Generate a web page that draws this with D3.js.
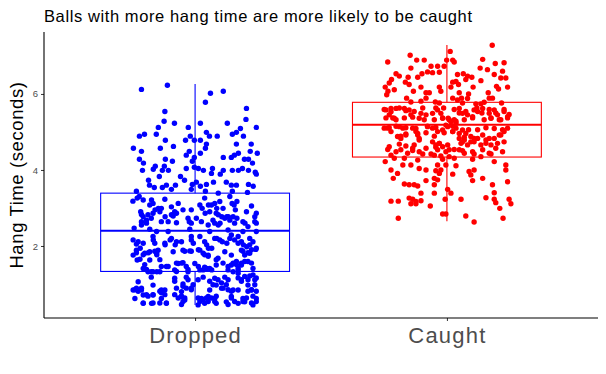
<!DOCTYPE html>
<html><head><meta charset="utf-8">
<script src="https://cdn.jsdelivr.net/npm/d3@7"></script>
<style>body{margin:0;background:#fff}svg{display:block}text{font-family:"Liberation Sans",Arial,sans-serif}</style>
</head><body>
<svg id="c" width="606" height="374"></svg>
<script>
const categories = ["Dropped", "Caught"];
const colors = ["#0000FF", "#FF0000"];
const yTicks = [2, 4, 6];
// box stats: [lowerWhisker, q1, median, q3, upperWhisker]
const droppedBox = [0.45, 1.33, 2.40, 3.39, 6.26];
const caughtBox = [2.65, 4.34, 5.19, 5.78, 7.29];
// jittered points: horizontal jitter (category units) and hang time (seconds)
const droppedJitter = [-0.213,-0.110,0.061,0.112,0.041,-0.120,0.204,-0.123,-0.082,0.202,0.021,0.128,0.243,-0.146,-0.027,-0.201,-0.221,-0.154,-0.019,0.045,0.057,0.088,0.148,0.164,0.180,0.192,-0.118,-0.038,-0.003,0.021,-0.245,-0.213,-0.138,-0.086,0.045,0.041,0.164,0.223,-0.023,-0.035,0.021,0.219,0.247,0.172,0.156,0.144,0.112,-0.003,-0.221,-0.118,-0.011,0.196,0.212,-0.205,-0.090,0.228,-0.158,-0.166,-0.209,-0.122,-0.130,-0.106,-0.035,-0.003,0.013,0.033,0.069,0.112,0.148,0.172,0.188,0.212,0.239,0.100,0.065,-0.142,-0.058,-0.042,-0.185,-0.181,-0.162,-0.130,-0.114,-0.078,-0.094,-0.011,0.005,0.021,0.045,0.073,0.124,0.144,0.164,0.212,0.231,0.243,-0.233,-0.015,0.041,0.092,0.148,0.208,
-0.247,-0.230,-0.206,-0.173,-0.180,-0.134,-0.140,-0.120,-0.094,-0.067,-0.081,-0.087,-0.048,-0.015,0.019,0.038,0.065,0.078,0.098,0.058,0.084,0.111,0.155,0.160,0.224,0.204,0.138,-0.216,-0.206,-0.187,-0.167,-0.213,-0.193,-0.134,-0.107,-0.074,-0.028,-0.015,0.005,0.025,0.052,0.071,0.118,0.151,0.157,0.190,0.237,0.237,0.210,-0.242,-0.180,-0.153,-0.107,-0.021,0.058,0.131,0.190,0.243,-0.246,-0.226,-0.206,-0.167,-0.160,-0.120,-0.094,-0.074,-0.054,-0.015,0.019,0.038,0.078,0.098,0.138,0.157,0.171,0.217,0.230,-0.246,-0.233,-0.200,-0.180,-0.153,-0.147,-0.180,-0.219,-0.087,-0.048,-0.021,0.019,0.032,0.052,0.091,0.118,0.144,0.184,0.197,0.217,0.241,-0.067,-0.048,-0.107,-0.134,-0.206,-0.001,0.084,0.144,0.164,0.184,0.210,0.230,0.038,0.058,-0.187,-0.167,-0.140,-0.081,-0.028,0.019,0.131,0.171,-0.174,-0.226,-0.081,-0.035,0.032,0.078,0.118,0.131,0.184,0.217,0.237,-0.167,-0.048,0.084,0.210,-0.246,-0.233,-0.213,-0.134,-0.120,-0.054,-0.015,0.058,0.105,0.151,0.171,0.224,-0.239,-0.206,-0.187,-0.167,-0.134,-0.054,-0.041,0.025,0.052,0.078,0.144,0.190,0.243,-0.206,-0.173,-0.114,0.012,0.038,0.084,0.171,0.230,0.124,0.197];
const droppedHang = [6.12,6.23,6.02,6.07,5.78,5.54,5.62,5.28,5.23,5.33,5.23,5.23,5.12,5.12,5.12,4.94,4.89,4.94,4.89,4.99,4.89,4.89,4.94,4.99,5.09,4.89,4.78,4.78,4.78,4.78,4.57,4.49,4.57,4.62,4.68,4.57,4.68,4.68,4.49,4.39,4.44,4.49,4.44,4.44,4.39,4.33,4.33,4.33,4.28,4.28,4.23,4.28,4.28,4.18,4.23,4.18,4.10,4.02,3.99,4.10,3.99,3.99,4.04,4.07,4.04,3.99,4.04,3.99,3.99,3.99,4.04,3.99,3.94,3.89,3.91,3.83,3.83,3.73,3.73,3.60,3.54,3.54,3.60,3.60,3.49,3.62,3.68,3.57,3.62,3.68,3.68,3.60,3.60,3.62,3.57,3.89,3.44,3.49,3.44,3.39,3.44,3.41,
3.18,3.26,3.21,3.21,3.08,2.99,2.90,3.23,3.03,3.12,2.90,2.79,2.95,2.95,3.08,3.26,3.08,3.12,3.17,2.90,2.86,2.99,3.08,2.95,3.05,2.90,3.30,2.90,2.77,2.82,2.86,2.64,2.60,2.64,2.64,2.61,2.73,2.60,2.73,2.64,2.55,2.68,2.73,2.77,2.60,2.64,2.64,2.77,2.51,2.47,2.44,2.38,2.38,2.44,2.38,2.42,2.38,2.38,2.16,2.11,2.07,2.25,2.07,2.07,2.20,2.11,2.11,2.16,2.25,2.11,2.20,2.16,2.20,2.16,2.07,2.20,2.11,1.76,1.89,1.81,1.85,1.81,1.89,1.63,1.65,1.85,1.89,1.87,1.89,1.81,1.76,1.68,1.85,1.76,1.89,1.76,1.81,1.91,1.54,1.56,1.46,1.46,1.41,1.54,1.50,1.50,1.59,1.50,1.59,1.41,1.44,1.41,1.32,1.32,1.32,1.37,1.32,1.37,1.37,1.37,1.18,1.06,1.15,1.18,1.18,1.15,1.18,1.11,1.11,1.21,1.11,0.97,1.00,0.97,0.97,0.84,0.89,0.84,0.84,0.84,0.80,0.89,0.84,0.89,0.84,0.84,0.84,0.62,0.71,0.68,0.71,0.62,0.67,0.58,0.62,0.67,0.62,0.67,0.62,0.62,0.49,0.49,0.49,0.45,0.49,0.49,0.49,0.45,0.53,0.53];
// further dropped points read from close-ups: [jitter, hang time]
const droppedMore = [[-0.222,3.30],[-0.167,3.12],[-0.159,2.95],[-0.146,2.99],[-0.213,2.83],[-0.193,2.68],[-0.174,2.73],[-0.213,2.55],[-0.119,2.77],[-0.094,2.82],[-0.074,2.86],[-0.023,2.64],[0.028,2.99],[0.040,2.86],[0.053,3.08],[0.086,2.99],[0.092,2.82],[0.106,2.77],[0.126,2.77],[0.078,2.60],[0.092,2.55],[0.099,2.60],[0.132,2.77],[0.138,2.68],[0.166,2.73],[0.147,3.12],[0.166,3.17],[0.243,2.86],[0.198,2.60],[0.243,2.60],
[-0.233,2.05],[-0.218,1.94],[-0.166,2.16],[-0.119,2.03],[-0.099,2.16],[-0.079,2.03],[-0.015,2.25],[-0.007,2.07],[0.046,2.03],[0.053,1.94],[0.066,1.94],[0.086,2.20],[0.108,2.11],[0.126,2.07],[0.144,2.29],[0.171,2.25],[0.184,2.11],[0.192,2.03],[0.205,1.98],[0.217,2.03],[0.243,1.94],
[-0.233,1.82],[-0.206,1.77],[-0.186,1.82],[-0.160,1.86],[-0.152,1.77],[-0.140,1.64],[-0.230,1.63],[-0.200,1.51],[-0.193,1.38],[-0.174,1.32],[-0.152,1.32],[-0.114,1.46],[-0.074,1.33],[-0.074,1.55],[-0.054,1.55],[-0.035,1.46],[-0.028,1.38],[-0.041,1.86],[-0.015,1.86],[0.013,1.90],[0.038,1.77],[0.052,1.73],[0.013,1.46],[0.032,1.37],[0.046,1.41],[0.066,1.37],[0.084,1.64],[0.111,1.55],[0.131,1.46],[0.151,1.55],[0.164,1.51],[0.171,1.42],[0.184,1.55],[0.197,1.59],[0.224,1.55],[0.151,1.32],[0.171,1.28],[0.190,1.86],[0.210,1.82],[0.224,1.90],
[-0.239,0.85],[-0.213,0.89],[-0.226,0.81],[-0.193,0.72],[-0.167,0.72],[-0.140,0.81],[-0.134,0.77],[-0.120,0.72],[-0.206,0.50],[-0.167,0.50],[-0.140,0.50],[-0.114,0.50],[-0.081,0.72],[-0.067,0.63],[-0.054,0.68],[-0.048,0.54],[-0.041,0.63],[-0.054,0.46],[-0.081,1.07],[-0.074,0.89],[-0.048,0.94],[-0.035,0.89],[-0.028,1.11],[-0.015,0.85],[-0.008,0.98],[0.012,1.11],[0.012,0.63],[0.019,0.54],[0.032,0.59],[0.045,0.63],[0.052,0.54],[0.065,0.63],[0.078,0.54],[0.084,0.68],[0.058,1.07],[0.071,0.98],[0.091,1.11],[0.105,1.03],[0.111,0.89],[0.131,0.85],[0.144,0.81],[0.124,0.98],[0.171,1.16],[0.184,1.07],[0.197,1.20],[0.210,1.11],[0.230,1.24],[0.243,1.16],[0.237,0.98],[0.224,0.85],[0.210,0.81],[0.243,0.81],[0.230,0.68],[0.204,0.63],[0.190,0.54],[0.224,0.50],[0.243,0.54],[0.144,0.63],[0.157,0.54],[0.131,0.46]];
const caughtJitter = [0.180,0.013,-0.146,-0.235,-0.120,-0.090,0.023,0.029,-0.001,0.142,0.192,0.227,-0.063,-0.037,-0.011,-0.143,-0.202,-0.189,-0.154,-0.116,-0.099,-0.077,-0.057,-0.030,0.042,0.065,0.082,0.099,0.132,0.161,0.188,0.221,0.234,0.214,-0.220,-0.229,-0.245,-0.165,-0.150,-0.103,-0.030,0.023,0.036,0.075,0.046,0.104,0.135,0.197,0.241,-0.209,-0.234,-0.239,-0.133,-0.083,-0.070,-0.024,0.016,0.049,0.086,0.164,0.205,-0.160,-0.083,0.023,0.082,0.168,0.181,-0.143,-0.103,-0.046,-0.030,0.062,0.115,0.135,0.148,0.217,-0.249,-0.222,-0.189,-0.163,-0.096,-0.044,-0.013,0.029,0.049,0.075,0.119,0.139,0.168,0.194,0.227,0.247,-0.242,-0.215,-0.169,-0.136,-0.090,-0.050,-0.017,0.009,0.036,0.069,0.102,0.148,0.175,0.214,0.241,-0.229,-0.202,-0.163,-0.123,-0.077,-0.044,-0.004,0.023,0.086,0.122,0.155,0.188,0.221,
-0.183,-0.163,-0.116,-0.083,-0.050,-0.011,0.023,0.069,0.108,0.168,0.214,-0.189,-0.163,-0.130,-0.110,-0.030,0.062,0.095,0.155,0.201,-0.235,-0.136,-0.044,0.029,0.062,-0.096,-0.063,-0.024,0.009,0.108,0.135,0.175,-0.222,-0.209,-0.245,-0.169,-0.116,-0.017,0.029,0.102,0.188,0.234,-0.175,-0.143,-0.037,-0.004,0.036,-0.222,-0.110,-0.083,-0.044,-0.024,0.088,0.108,0.234,-0.196,-0.030,0.023,0.095,-0.213,-0.083,-0.050,-0.037,0.102,0.142,0.241,-0.169,-0.150,-0.130,-0.116,-0.050,0.181,0.003,0.016,-0.103,-0.050,0.188,0.056,0.155,-0.150,-0.136,0.188,0.247,-0.222,-0.193,-0.123,-0.103,-0.143,-0.123,-0.007,0.194,0.254,-0.066,0.210,-0.017,-0.004,0.075,-0.193,0.108,0.223];
const caughtHang = [7.28,7.12,7.02,6.84,6.89,6.89,6.89,6.84,6.89,6.91,6.80,6.82,6.73,6.73,6.73,6.68,6.53,6.47,6.44,6.44,6.53,6.58,6.56,6.57,6.51,6.53,6.47,6.44,6.68,6.64,6.51,6.60,6.42,6.42,6.38,6.29,6.18,6.31,6.25,6.18,6.18,6.31,6.33,6.38,6.25,6.18,6.35,6.20,6.18,6.11,6.07,5.98,6.07,6.03,6.03,6.07,6.18,6.03,6.00,6.03,6.13,5.89,5.89,5.89,5.88,5.89,5.89,5.79,5.81,5.79,5.76,5.76,5.74,5.74,5.78,5.76,5.59,5.53,5.63,5.56,5.63,5.63,5.63,5.59,5.50,5.54,5.63,5.50,5.59,5.50,5.59,5.46,5.37,5.37,5.37,5.39,5.32,5.32,5.37,5.32,5.28,5.32,5.37,5.32,5.37,5.32,5.37,5.11,5.15,5.11,5.09,5.15,5.12,5.18,5.15,5.06,5.06,5.11,5.09,5.06,
4.89,4.95,4.96,4.98,4.89,4.98,5.01,4.86,4.83,4.83,4.92,4.68,4.63,4.66,4.79,4.70,4.74,4.74,4.70,4.70,4.54,4.51,4.60,4.54,4.51,4.42,4.42,4.37,4.35,4.42,4.35,4.42,4.39,4.31,4.22,4.31,4.26,4.28,4.31,4.28,4.22,4.13,4.13,4.13,4.13,4.13,4.11,4.00,4.04,4.00,3.98,4.00,3.96,4.00,4.00,3.91,3.91,3.89,3.87,3.78,3.72,3.78,3.74,3.72,3.78,3.69,3.63,3.61,3.61,3.58,3.61,3.61,3.49,3.39,3.39,3.39,3.40,3.23,3.27,3.26,3.23,3.23,3.23,3.18,3.18,3.17,3.19,3.11,3.11,3.23,3.14,3.11,3.05,2.99,2.84,2.84,2.79,2.73,2.63,2.73];
// further caught points read from close-ups: [jitter, hang time]
const caughtMore = [[0.042,5.84],[0.058,5.89],[-0.242,5.58],[-0.222,5.62],[-0.202,5.62],[-0.229,5.45],[-0.209,5.36],[-0.202,5.32],[-0.169,5.62],[-0.150,5.58],[-0.143,5.45],[-0.130,5.54],[-0.110,5.36],[-0.103,5.49],[-0.083,5.45],[-0.057,5.49],[-0.037,5.58],[-0.024,5.49],[-0.017,5.36],[0.005,5.36],[0.016,5.27],[0.029,5.32],[0.036,5.23],[0.049,5.62],[0.062,5.49],[0.082,5.45],[0.102,5.40],[0.108,5.58],[0.122,5.54],[0.142,5.62],[0.168,5.49],[0.175,5.36],[0.188,5.58],[0.201,5.45],[0.208,5.32],[0.227,5.54],[0.241,5.40],
[-0.249,5.10],[-0.235,5.10],[-0.222,5.01],[-0.189,5.14],[-0.175,5.10],[-0.163,4.92],[-0.183,4.83],[-0.196,4.88],[-0.136,5.10],[-0.123,5.01],[-0.116,4.92],[-0.110,4.83],[-0.077,5.14],[-0.057,5.10],[-0.037,5.01],[-0.017,5.05],[0.003,5.14],[0.023,5.01],[0.036,5.10],[0.049,4.96],[0.062,5.05],[0.075,4.96],
[-0.057,4.74],[-0.044,4.66],[-0.030,4.70],[-0.017,4.61],[0.003,4.66],[-0.037,4.53],[-0.050,4.39],[-0.004,4.48],[0.009,4.53],[0.049,4.83],[0.056,4.70],[0.069,4.79],[0.082,4.66],[0.095,4.88],[0.108,4.74],[0.122,4.83],[0.135,4.66],[0.142,4.92],[0.155,4.79],[0.175,4.66],[0.188,4.83],[0.208,4.92],[0.227,5.01],[0.241,5.10],[0.227,4.74],
[-0.229,4.61],[-0.202,4.48],[-0.183,4.53],[-0.156,4.44],[-0.136,4.57],[-0.110,4.48],[-0.083,4.57],[0.049,4.53],[0.069,4.44],[0.102,4.48],[0.142,4.53],[0.168,4.44],[0.194,4.57],[0.221,4.48]];

const W = 606, H = 374;
const m = {left: 44, right: 8, top: 32, bottom: 56};
const svg = d3.select("#c");

const x = d3.scaleLinear().domain([0.4, 2.6]).range([m.left, W - m.right]);
const y = d3.scaleLinear().domain([0.105, 7.63]).range([H - m.bottom, m.top]);

const toPts = (jit, val, more) => jit.map((j, k) => [j, val[k]]).concat(more);
const groups = [
  {name: categories[0], pts: toPts(droppedJitter, droppedHang, droppedMore), box: droppedBox, color: colors[0]},
  {name: categories[1], pts: toPts(caughtJitter, caughtHang, caughtMore), box: caughtBox, color: colors[1]}
];

// title
svg.append("text").attr("x", m.left).attr("y", 22)
  .attr("font-size", 16.5).attr("letter-spacing", 0.6).attr("fill", "#000")
  .text("Balls with more hang time are more likely to be caught");

// points
groups.forEach((g, i) => {
  svg.append("g").selectAll("circle").data(g.pts).join("circle")
    .attr("cx", d => x(i + 1 + d[0]))
    .attr("cy", d => y(d[1]))
    .attr("r", 2.7)
    .attr("fill", g.color);
});

// boxes
const halfW = 0.375;
groups.forEach((g, i) => {
  const c = i + 1, [lo, q1, med, q3, hi] = g.box;
  const bg = svg.append("g").attr("stroke", g.color).attr("stroke-width", 1.1).attr("fill", "none");
  bg.append("line").attr("x1", x(c)).attr("x2", x(c)).attr("y1", y(q3)).attr("y2", y(hi));
  bg.append("line").attr("x1", x(c)).attr("x2", x(c)).attr("y1", y(q1)).attr("y2", y(lo));
  bg.append("rect").attr("x", x(c - halfW)).attr("y", y(q3))
    .attr("width", x(c + halfW) - x(c - halfW)).attr("height", y(q1) - y(q3));
  bg.append("line").attr("x1", x(c - halfW)).attr("x2", x(c + halfW))
    .attr("y1", y(med)).attr("y2", y(med)).attr("stroke-width", 1.8);
});

// axes
const yAxis = d3.axisLeft(y).tickValues(yTicks).tickSize(3).tickPadding(3);
const ya = svg.append("g").attr("transform", `translate(${m.left},0)`).call(yAxis);
ya.select(".domain").remove();
ya.selectAll(".tick line").attr("stroke", "#333");
ya.selectAll(".tick text").attr("fill", "#4d4d4d").attr("font-size", 9.5)
  .attr("font-family", "Liberation Sans, Arial, sans-serif");

const xAxis = d3.axisBottom(x).tickValues([1, 2]).tickFormat((d) => categories[d - 1]).tickSize(3).tickPadding(6);
const xa = svg.append("g").attr("transform", `translate(0,${H - m.bottom})`).call(xAxis);
xa.select(".domain").remove();
xa.selectAll(".tick line").attr("stroke", "#333");
xa.selectAll(".tick text").attr("fill", "#4d4d4d").attr("font-size", 22).attr("letter-spacing", 1.2)
  .attr("font-family", "Liberation Sans, Arial, sans-serif");

svg.append("line").attr("x1", m.left).attr("x2", m.left).attr("y1", m.top).attr("y2", H - m.bottom)
  .attr("stroke", "#000").attr("stroke-width", 1.1);
svg.append("line").attr("x1", m.left).attr("x2", W - m.right).attr("y1", H - m.bottom).attr("y2", H - m.bottom)
  .attr("stroke", "#000").attr("stroke-width", 1.1);

// y label
svg.append("text").attr("transform", `translate(23,${(m.top + H - m.bottom) / 2}) rotate(-90)`)
  .attr("text-anchor", "middle").attr("font-size", 18.5).attr("letter-spacing", 0.6).attr("fill", "#000")
  .text("Hang Time (seconds)");
</script>
</body></html>
